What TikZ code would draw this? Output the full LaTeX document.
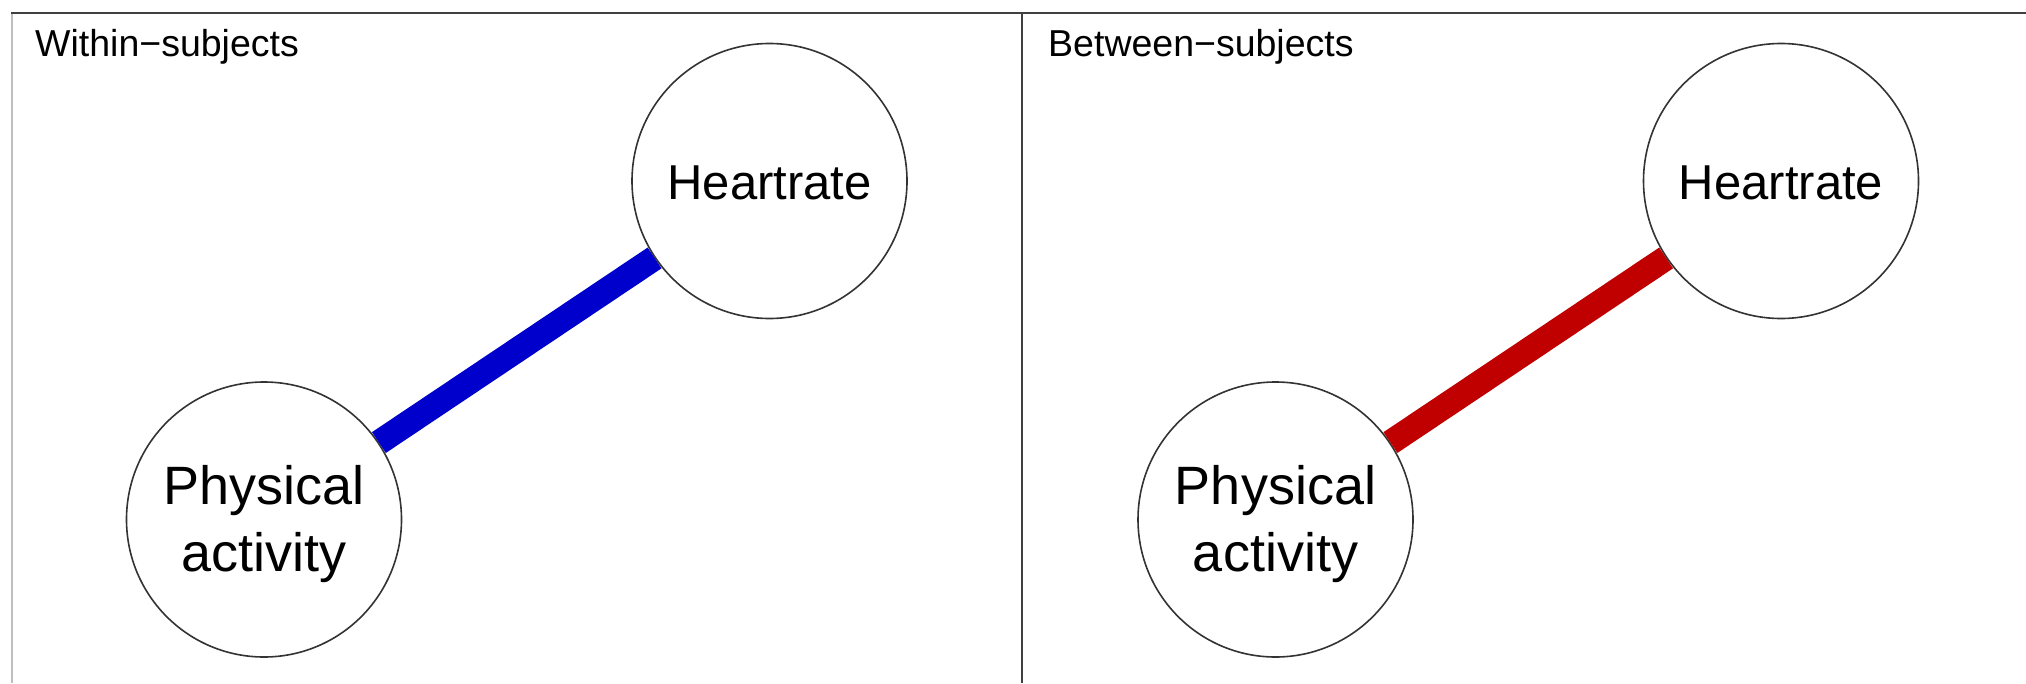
\documentclass[tikz,border=0pt]{standalone}
\usepackage{fontspec}
\setmainfont{Liberation Sans}
% two centred lines, lowered a little inside the circle
\newcommand{\twolinelabel}[2]{\raisebox{-5.5pt}[\height][\depth]{\begin{tabular}{@{}c@{}}#1\\#2\end{tabular}}}
% one line, lowered slightly inside the circle
\newcommand{\onelinelabel}[1]{\raisebox{-2pt}[\height][\depth]{#1}}
\begin{document}
\begin{tikzpicture}[x=1pt,y=-1pt,
  frameline/.style={draw=black!75,line width=2pt},
  varnode/.style={circle,draw=black!80,line width=1.6pt,fill=white,minimum size=275pt,inner sep=0pt},
  smalllabel/.style={font=\fontsize{49}{59}\selectfont},
  biglabel/.style={font=\fontsize{54}{67}\selectfont},
  panellabel/.style={anchor=base west,inner sep=0pt,font=\fontsize{37.5}{45}\selectfont},
  edgewithin/.style={draw={rgb,255:red,0;green,0;blue,205},line width=25pt},
  edgebetween/.style={draw={rgb,255:red,192;green,0;blue,0},line width=25pt}]
\useasboundingbox (0,0) rectangle (2026,683);
% panel frames
\draw[draw=black!25,line width=2pt] (12,13) -- (12,683);
\draw[frameline] (11,13) -- (2026,13);
\draw[frameline] (1022,13) -- (1022,683);
% panel titles
\node[panellabel] (tw) at (35,56) {Within−subjects};
\node[panellabel] (tb) at (1048,56) {Between−subjects};
% within-subjects network
\node[varnode,smalllabel] (hw) at (769.5,181) {\onelinelabel{Heartrate}};
\node[varnode,biglabel] (pw) at (264,519.5) {\twolinelabel{Physical}{activity}};
% between-subjects network
\node[varnode,smalllabel] (hb) at (1781,181) {\onelinelabel{Heartrate}};
\node[varnode,biglabel] (pb) at (1275.5,519.5) {\twolinelabel{Physical}{activity}};
% edges
\draw[edgewithin] (pw) -- (hw);
\draw[edgebetween] (pb) -- (hb);
\end{tikzpicture}
\end{document}
